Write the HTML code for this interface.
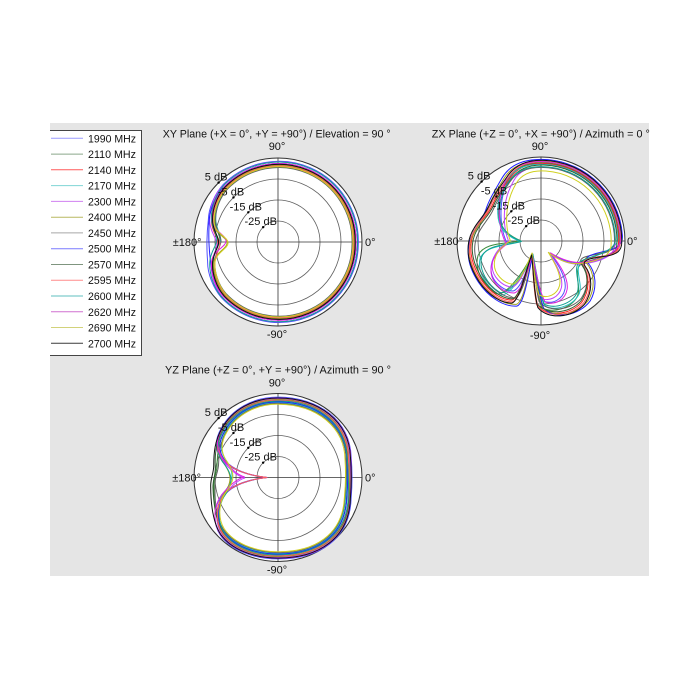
<!DOCTYPE html>
<html>
<head>
<meta charset="utf-8">
<style>
html,body{margin:0;padding:0;background:#fff;}
svg{display:block;}
text{font-family:"Liberation Sans",Arial,sans-serif;font-size:11px;fill:#111;}
.ring{fill:none;stroke:#606060;stroke-width:0.8;}
.outer{fill:#fff;stroke:#333;stroke-width:1;}
.ax{stroke:#333;stroke-width:0.8;}
.crv{fill:none;stroke-width:1;vector-effect:non-scaling-stroke;stroke-linejoin:round;}
</style>
</head>
<body>
<svg width="700" height="700" viewBox="0 0 700 700" xmlns="http://www.w3.org/2000/svg">
<defs>
  <!-- XY bases -->
  <path id="x1" class="crv" d="M 78 0 A 77 78 0 0 0 -54 -55 C -62 -46, -67 -32, -66 -20 C -65 -10, -52 -6, -52 0 C -52 6, -65 10, -66 20 C -67 32, -62 46, -54 55 A 77 77 0 0 0 78 0 Z"/>
  <path id="x2" class="crv" d="M 78 0 A 77 78 0 0 0 -54 -55 C -62 -46, -67 -32, -66 -20 C -65 -10, -60 -6, -60 0 C -60 6, -65 10, -66 20 C -67 32, -62 46, -54 55 A 77 77 0 0 0 78 0 Z"/>
  <path id="x3" class="crv" d="M 78 0 A 77 78 0 0 0 -54 -55 C -62 -46, -68 -32, -68 -20 C -69 -10, -69 -6, -69 0 C -69 6, -69 10, -68 20 C -68 32, -62 46, -54 55 A 77 77 0 0 0 78 0 Z"/>
  <!-- ZX bases -->
  <path id="za" class="crv" d="M 80 0 C 80 -44, 44 -80, 0 -80 C -14 -80, -26 -76, -34 -64 C -42 -52, -48 -44, -52 -34 C -56 -24, -66 -16, -70 -4 C -74 8, -72 22, -64 36 C -56 50, -42 62, -28 62 C -20 60, -14 28, -9 14 C -7 30, -6 52, -2 66 C 8 78, 32 76, 44 62 C 52 50, 52 34, 44 24 C 40 18, 50 16, 64 14 C 76 12, 80 8, 80 0 Z"/>
  <path id="zb" class="crv" d="M 80 0 C 80 -44, 44 -80, 0 -80 C -14 -80, -26 -76, -34 -64 C -42 -52, -44 -40, -44 -30 C -44 -18, -40 -8, -21 0 C -36 4, -58 2, -64 16 C -68 30, -58 46, -46 54 C -36 60, -16 30, -9 14 C -6 30, -4 52, 2 68 C 14 74, 32 68, 38 56 C 42 46, 34 32, 40 24 C 48 18, 60 18, 70 12 C 78 8, 80 4, 80 0 Z"/>
  <path id="zc" class="crv" d="M 78 0 C 78 -43, 43 -78, 0 -78 C -14 -78, -26 -74, -32 -62 C -38 -50, -40 -40, -40 -28 C -40 -16, -38 -6, -34 2 C -42 8, -50 16, -50 28 C -50 40, -38 50, -28 50 C -20 48, -14 28, -9 14 C -6 28, -4 48, 2 60 C 12 64, 22 58, 24 48 C 26 36, 16 22, 9 12 C 18 18, 30 24, 44 22 C 56 20, 68 16, 74 10 C 77 6, 78 3, 78 0 Z"/>
  <!-- YZ bases -->
  <path id="ya" class="crv" d="M 0 -78 C -25 -78, -45 -66, -55 -48 C -62 -36, -61 -26, -55 -18 C -47 -8, -30 -2, -11 0 C -30 2, -47 8, -55 18 C -62 28, -64 44, -56 56 C -46 70, -25 79, 0 79 C 40 79, 70 60, 71 20 C 72 8, 72 -8, 71 -20 C 70 -55, 40 -78, 0 -78 Z"/>
  <path id="yb" class="crv" d="M 0 -78 C -25 -78, -45 -66, -55 -48 C -62 -36, -63 -24, -63 -12 C -63 -4, -66 0, -66 8 C -66 24, -64 44, -56 56 C -46 70, -25 79, 0 79 C 40 79, 70 60, 71 20 C 72 8, 72 -8, 71 -20 C 70 -55, 40 -78, 0 -78 Z"/>
  <path id="yc" class="crv" d="M 0 -78 C -25 -78, -45 -66, -55 -48 C -62 -36, -61 -26, -56 -18 C -50 -10, -48 -5, -48 0 C -48 5, -50 10, -56 18 C -62 28, -64 44, -56 56 C -46 70, -25 79, 0 79 C 40 79, 70 60, 71 20 C 72 8, 72 -8, 71 -20 C 70 -55, 40 -78, 0 -78 Z"/>
  <path id="yd" class="crv" d="M 0 -78 C -25 -78, -45 -66, -55 -48 C -62 -36, -61 -26, -55 -18 C -47 -8, -40 -2, -33 0 C -40 2, -47 8, -55 18 C -62 28, -64 44, -56 56 C -46 70, -25 79, 0 79 C 40 79, 70 60, 71 20 C 72 8, 72 -8, 71 -20 C 70 -55, 40 -78, 0 -78 Z"/>
</defs>

<rect x="0" y="0" width="700" height="700" fill="#fff"/>
<rect x="50" y="123" width="599" height="453" fill="#e5e5e5"/>

<!-- Legend -->
<rect x="50" y="130" width="91" height="225" fill="#fff"/>
<polyline points="50,130.5 141.5,130.5 141.5,355.5 50,355.5" fill="none" stroke="#444" stroke-width="1"/>
<g stroke-width="1">
  <line x1="51" y1="138.3" x2="83" y2="138.3" stroke="#9a9aff"/>
  <line x1="51" y1="154.1" x2="83" y2="154.1" stroke="#8aa88a"/>
  <line x1="51" y1="169.8" x2="83" y2="169.8" stroke="#ff5a5a"/>
  <line x1="51" y1="185.6" x2="83" y2="185.6" stroke="#7fd4d4"/>
  <line x1="51" y1="201.4" x2="83" y2="201.4" stroke="#d080f0"/>
  <line x1="51" y1="217.2" x2="83" y2="217.2" stroke="#b8b860"/>
  <line x1="51" y1="232.9" x2="83" y2="232.9" stroke="#a8a8a8"/>
  <line x1="51" y1="248.7" x2="83" y2="248.7" stroke="#7a7aff"/>
  <line x1="51" y1="264.5" x2="83" y2="264.5" stroke="#7f957f"/>
  <line x1="51" y1="280.2" x2="83" y2="280.2" stroke="#ff8c8c"/>
  <line x1="51" y1="296.0" x2="83" y2="296.0" stroke="#5fbfbf"/>
  <line x1="51" y1="311.8" x2="83" y2="311.8" stroke="#d070d0"/>
  <line x1="51" y1="327.5" x2="83" y2="327.5" stroke="#d2d27a"/>
  <line x1="51" y1="343.3" x2="83" y2="343.3" stroke="#3a3a3a"/>
</g>
<g>
  <text x="88" y="142.3" textLength="48" lengthAdjust="spacingAndGlyphs">1990 MHz</text>
  <text x="88" y="158.1" textLength="48" lengthAdjust="spacingAndGlyphs">2110 MHz</text>
  <text x="88" y="173.8" textLength="48" lengthAdjust="spacingAndGlyphs">2140 MHz</text>
  <text x="88" y="189.6" textLength="48" lengthAdjust="spacingAndGlyphs">2170 MHz</text>
  <text x="88" y="205.4" textLength="48" lengthAdjust="spacingAndGlyphs">2300 MHz</text>
  <text x="88" y="221.2" textLength="48" lengthAdjust="spacingAndGlyphs">2400 MHz</text>
  <text x="88" y="236.9" textLength="48" lengthAdjust="spacingAndGlyphs">2450 MHz</text>
  <text x="88" y="252.7" textLength="48" lengthAdjust="spacingAndGlyphs">2500 MHz</text>
  <text x="88" y="268.5" textLength="48" lengthAdjust="spacingAndGlyphs">2570 MHz</text>
  <text x="88" y="284.2" textLength="48" lengthAdjust="spacingAndGlyphs">2595 MHz</text>
  <text x="88" y="300.0" textLength="48" lengthAdjust="spacingAndGlyphs">2600 MHz</text>
  <text x="88" y="315.8" textLength="48" lengthAdjust="spacingAndGlyphs">2620 MHz</text>
  <text x="88" y="331.5" textLength="48" lengthAdjust="spacingAndGlyphs">2690 MHz</text>
  <text x="88" y="347.3" textLength="48" lengthAdjust="spacingAndGlyphs">2700 MHz</text>
</g>

<!-- Titles -->
<text x="276.7" y="137.3" text-anchor="middle" textLength="228" lengthAdjust="spacingAndGlyphs">XY Plane (+X = 0°, +Y = +90°) / Elevation = 90 °</text>
<text x="540.8" y="137.3" text-anchor="middle" textLength="218" lengthAdjust="spacingAndGlyphs">ZX Plane (+Z = 0°, +X = +90°) / Azimuth = 0 °</text>
<text x="278" y="373.3" text-anchor="middle" textLength="226" lengthAdjust="spacingAndGlyphs">YZ Plane (+Z = 0°, +Y = +90°) / Azimuth = 90 °</text>

<!-- ===== XY plot ===== -->
<g transform="translate(278,242)">
  <circle r="84" class="outer"/>
  <circle r="63" class="ring"/>
  <circle r="42" class="ring"/>
  <circle r="21" class="ring"/>
  <line x1="-84" y1="0" x2="84" y2="0" class="ax"/>
  <line x1="0" y1="-84" x2="0" y2="84" class="ax"/>
  <use href="#x3" transform="rotate(1) scale(1.03)" stroke="#5050ff"/>
  <use href="#x2" transform="rotate(2) scale(0.97)" stroke="#3a8a3a"/>
  <use href="#x2" transform="rotate(-1) scale(1.0)" stroke="#ff2020"/>
  <use href="#x2" transform="rotate(3) scale(0.96)" stroke="#20c0c0"/>
  <use href="#x2" transform="rotate(-2) scale(1.02)" stroke="#c040ff"/>
  <use href="#x1" transform="rotate(-1) scale(0.98)" stroke="#a0a020"/>
  <use href="#x2" transform="rotate(1) scale(0.95)" stroke="#606060"/>
  <use href="#x3" transform="rotate(-3) scale(1.0)" stroke="#2020ff"/>
  <use href="#x2" transform="rotate(0) scale(0.99)" stroke="#306030"/>
  <use href="#x2" transform="rotate(-2) scale(0.97)" stroke="#ff6060"/>
  <use href="#x2" transform="rotate(2) scale(1.02)" stroke="#10a090"/>
  <use href="#x1" transform="rotate(1) scale(1.0)" stroke="#e020e0"/>
  <use href="#x1" transform="rotate(-1) scale(0.96)" stroke="#d0d020"/>
  <use href="#x2" transform="rotate(0) scale(0.99)" stroke="#101010"/>
  <circle cx="-59.4" cy="-59.4" r="1.2" fill="#000"/>
  <circle cx="-44.55" cy="-44.55" r="1.2" fill="#000"/>
  <circle cx="-29.7" cy="-29.7" r="1.2" fill="#000"/>
  <circle cx="-14.85" cy="-14.85" r="1.2" fill="#000"/>
  <text x="-61.9" y="-61.4" text-anchor="middle">5 dB</text>
  <text x="-47" y="-46.5" text-anchor="middle">-5 dB</text>
  <text x="-32.2" y="-31.7" text-anchor="middle">-15 dB</text>
  <text x="-17.3" y="-16.9" text-anchor="middle">-25 dB</text>
  <text x="-1" y="-92" text-anchor="middle">90°</text>
  <text x="-1" y="96" text-anchor="middle">-90°</text>
  <text x="87" y="4">0°</text>
  <text x="-76.5" y="4" text-anchor="end">±180°</text>
</g>

<!-- ===== ZX plot ===== -->
<g transform="translate(541,241)">
  <circle r="84" class="outer"/>
  <circle r="63" class="ring"/>
  <circle r="42" class="ring"/>
  <circle r="21" class="ring"/>
  <line x1="-84" y1="0" x2="84" y2="0" class="ax"/>
  <line x1="0" y1="-84" x2="0" y2="84" class="ax"/>
  <use href="#zc" transform="scale(1.0)" stroke="#5050ff"/>
  <use href="#zb" transform="rotate(1) scale(0.98)" stroke="#3a8a3a"/>
  <use href="#za" transform="rotate(2) scale(0.97)" stroke="#ff2020"/>
  <use href="#zb" transform="rotate(-2) scale(0.96)" stroke="#20c0c0"/>
  <use href="#zc" transform="rotate(3) scale(0.95)" stroke="#c040ff"/>
  <use href="#za" transform="rotate(-3) scale(1.0)" stroke="#a0a020"/>
  <use href="#za" transform="scale(0.92)" stroke="#606060"/>
  <use href="#za" transform="rotate(-4) scale(1.02)" stroke="#2020ff"/>
  <use href="#za" transform="rotate(2) scale(0.95)" stroke="#306030"/>
  <use href="#za" transform="rotate(1) scale(0.99)" stroke="#ff6060"/>
  <use href="#zb" transform="rotate(-1) scale(0.93)" stroke="#10a090"/>
  <use href="#zc" transform="rotate(-2) scale(1.02)" stroke="#e020e0"/>
  <use href="#zc" transform="rotate(4) scale(0.9)" stroke="#d0d020"/>
  <use href="#za" transform="rotate(1) scale(1.01)" stroke="#101010"/>
  <circle cx="-59.4" cy="-59.4" r="1.2" fill="#000"/>
  <circle cx="-44.55" cy="-44.55" r="1.2" fill="#000"/>
  <circle cx="-29.7" cy="-29.7" r="1.2" fill="#000"/>
  <circle cx="-14.85" cy="-14.85" r="1.2" fill="#000"/>
  <text x="-61.9" y="-61.4" text-anchor="middle">5 dB</text>
  <text x="-47" y="-46.5" text-anchor="middle">-5 dB</text>
  <text x="-32.2" y="-31.7" text-anchor="middle">-15 dB</text>
  <text x="-17.3" y="-16.9" text-anchor="middle">-25 dB</text>
  <text x="-1" y="-91" text-anchor="middle">90°</text>
  <text x="-1" y="98" text-anchor="middle">-90°</text>
  <text x="86" y="4">0°</text>
  <text x="-78" y="4" text-anchor="end">±180°</text>
</g>

<!-- ===== YZ plot ===== -->
<g transform="translate(278,477.5)">
  <circle r="84" class="outer"/>
  <circle r="63" class="ring"/>
  <circle r="42" class="ring"/>
  <circle r="21" class="ring"/>
  <line x1="-84" y1="0" x2="84" y2="0" class="ax"/>
  <line x1="0" y1="-84" x2="0" y2="84" class="ax"/>
  <use href="#ya" transform="scale(1.03)" stroke="#5050ff"/>
  <use href="#yb" transform="rotate(1) scale(0.97)" stroke="#3a8a3a"/>
  <use href="#ya" transform="scale(1.0)" stroke="#ff2020"/>
  <use href="#yc" transform="rotate(2) scale(0.96)" stroke="#20c0c0"/>
  <use href="#yd" transform="rotate(-1) scale(1.01)" stroke="#c040ff"/>
  <use href="#yc" transform="rotate(-1) scale(1.0)" stroke="#a0a020"/>
  <use href="#yb" transform="rotate(2) scale(0.95)" stroke="#606060"/>
  <use href="#ya" transform="scale(0.97)" stroke="#2020ff"/>
  <use href="#yb" transform="rotate(-2) scale(0.99)" stroke="#306030"/>
  <use href="#ya" transform="scale(0.99)" stroke="#ff6060"/>
  <use href="#yc" transform="rotate(-2) scale(0.98)" stroke="#10a090"/>
  <use href="#yd" transform="rotate(1) scale(1.02)" stroke="#e020e0"/>
  <use href="#yc" transform="rotate(1) scale(0.94)" stroke="#d0d020"/>
  <use href="#yb" transform="scale(1.02)" stroke="#101010"/>
  <circle cx="-59.4" cy="-59.4" r="1.2" fill="#000"/>
  <circle cx="-44.55" cy="-44.55" r="1.2" fill="#000"/>
  <circle cx="-29.7" cy="-29.7" r="1.2" fill="#000"/>
  <circle cx="-14.85" cy="-14.85" r="1.2" fill="#000"/>
  <text x="-61.9" y="-61.4" text-anchor="middle">5 dB</text>
  <text x="-47" y="-46.5" text-anchor="middle">-5 dB</text>
  <text x="-32.2" y="-31.7" text-anchor="middle">-15 dB</text>
  <text x="-17.3" y="-16.9" text-anchor="middle">-25 dB</text>
  <text x="-1" y="-91" text-anchor="middle">90°</text>
  <text x="-1" y="96" text-anchor="middle">-90°</text>
  <text x="87" y="4">0°</text>
  <text x="-77" y="4" text-anchor="end">±180°</text>
</g>
</svg>
</body>
</html>
